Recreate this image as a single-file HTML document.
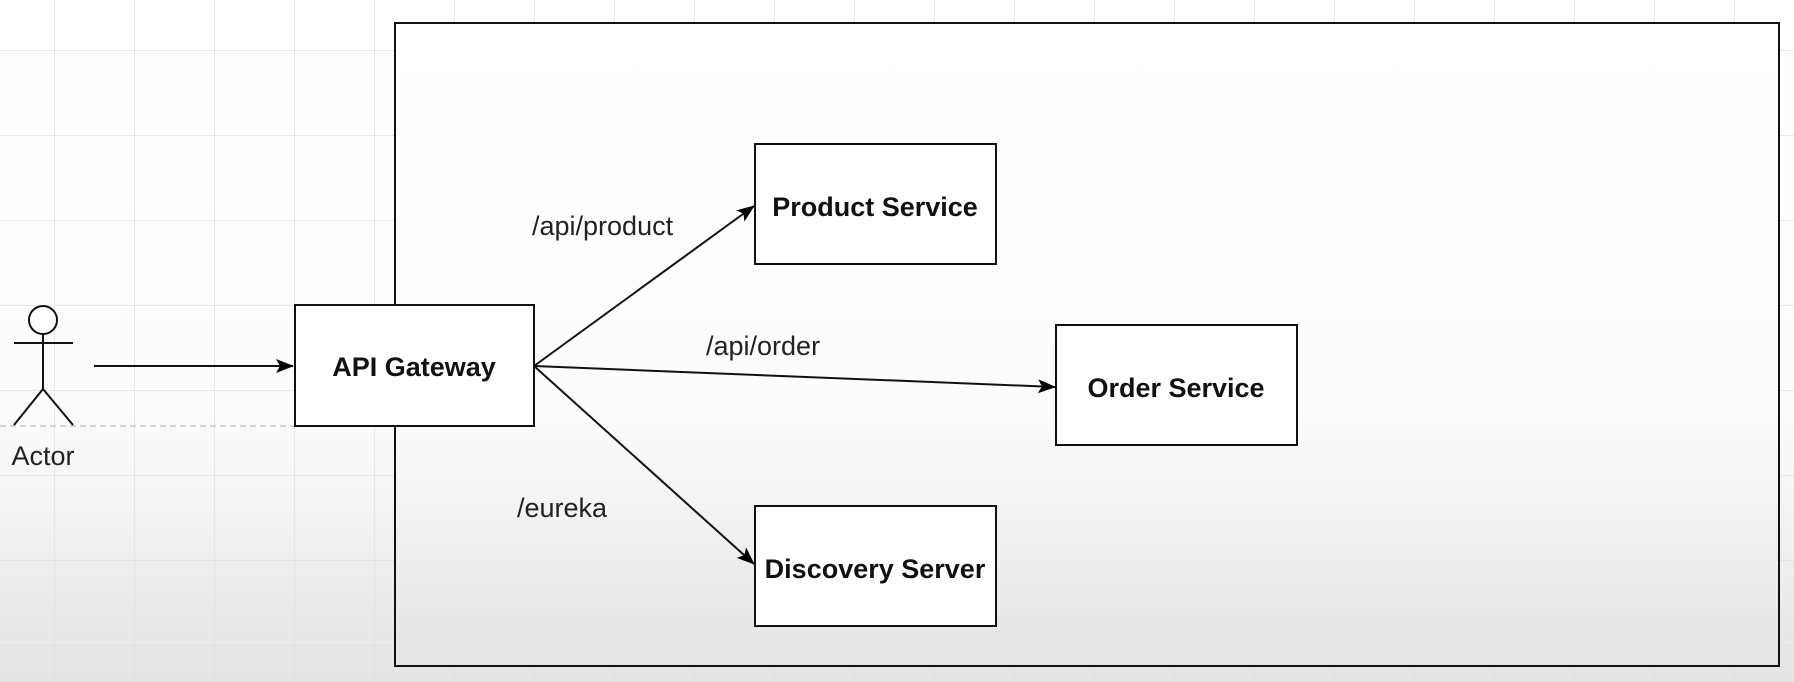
<!DOCTYPE html>
<html><head><meta charset="utf-8"><style>
html,body{margin:0;padding:0;width:1794px;height:682px;overflow:hidden;background:#fff}
text{font-family:"Liberation Sans",Arial,sans-serif}
</style></head><body>
<svg width="1794" height="682" viewBox="0 0 1794 682" xmlns="http://www.w3.org/2000/svg">
<defs>
<linearGradient id="bg" x1="0" y1="0" x2="0" y2="1">
<stop offset="0" stop-color="#ffffff"/>
<stop offset="0.6" stop-color="#fcfcfc"/>
<stop offset="1" stop-color="#e4e4e4"/>
</linearGradient>
<pattern id="grid" width="80" height="85" patternUnits="userSpaceOnUse" x="54" y="50">
<path d="M0 0V85M0 0H80" stroke="#dcdcdc" stroke-width="1.2" fill="none"/>
</pattern>
<marker id="ar" markerWidth="18" markerHeight="16" refX="17" refY="8" orient="auto" markerUnits="userSpaceOnUse">
<path d="M0 1L18 8L0 15L4 8Z" fill="#000"/>
</marker>
</defs>
<rect width="1794" height="682" fill="url(#bg)"/>
<rect width="1794" height="682" fill="url(#grid)"/>
<line x1="0" y1="426" x2="295" y2="426" stroke="#bbb" stroke-dasharray="6,4" stroke-width="1.2"/>
<rect x="395" y="23" width="1384" height="643" fill="url(#bg)" stroke="#111" stroke-width="2"/>
<g stroke="#111" stroke-width="2" fill="#fff">
<circle cx="43" cy="320" r="14"/>
<line x1="43" y1="334" x2="43" y2="389"/>
<line x1="14" y1="343" x2="73" y2="343"/>
<line x1="43" y1="389" x2="14" y2="425"/>
<line x1="43" y1="389" x2="73" y2="425"/>
</g>
<text x="43" y="465" font-size="27" text-anchor="middle" fill="#222">Actor</text>
<g fill="#fff" stroke="#111" stroke-width="2">
<rect x="295" y="305" width="239" height="121"/>
<rect x="755" y="144" width="241" height="120"/>
<rect x="1056" y="325" width="241" height="120"/>
<rect x="755" y="506" width="241" height="120"/>
</g>
<g font-size="27" font-weight="bold" text-anchor="middle" fill="#111">
<text x="414" y="376">API Gateway</text>
<text x="875" y="216">Product Service</text>
<text x="1176" y="397">Order Service</text>
<text x="875" y="578">Discovery Server</text>
</g>
<g stroke="#111" stroke-width="2" fill="none">
<line x1="94" y1="366" x2="293" y2="366" marker-end="url(#ar)"/>
<line x1="534" y1="366" x2="754" y2="206" marker-end="url(#ar)"/>
<line x1="534" y1="366" x2="1055" y2="387" marker-end="url(#ar)"/>
<line x1="534" y1="366" x2="754" y2="564" marker-end="url(#ar)"/>
</g>
<g font-size="27" fill="#222">
<text x="532" y="235">/api/product</text>
<text x="706" y="355">/api/order</text>
<text x="517" y="517">/eureka</text>
</g>
</svg>
</body></html>
